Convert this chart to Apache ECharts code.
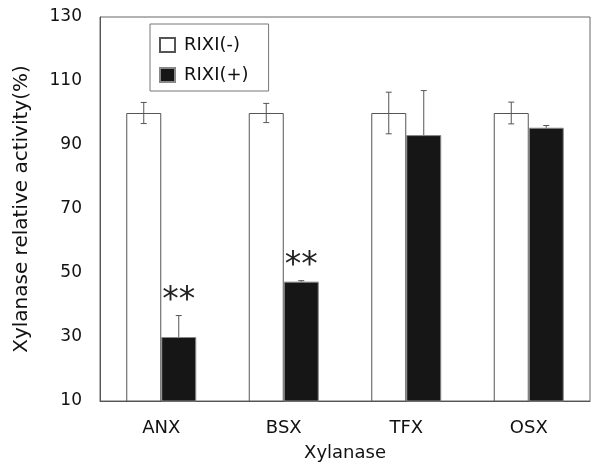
<!DOCTYPE html>
<html>
<head>
<meta charset="utf-8">
<script src="https://cdn.jsdelivr.net/npm/echarts@6/dist/echarts.min.js"></script>
<style>
  html, body { margin: 0; padding: 0; background: #fff; }
  #chart { width: 591px; height: 463px; }
</style>
</head>
<body>
<div id="chart"></div>
<script>
var categories = ['ANX', 'BSX', 'TFX', 'OSX'];
var withoutRixi = [100, 100, 100, 100];
var withoutRixiErr = [3.3, 3.0, 6.5, 3.4];
var withRixi = [30, 47.3, 93.1, 95.4];
var withRixiErr = [6.7, 0.3, 13.9, 0.7];
var significance = ['**', '**', '', ''];
var yTicks = [10, 30, 50, 70, 90, 110, 130];

var font = 'DejaVu Sans, Verdana, sans-serif';
var barW = 35;

// error bars (and asterisks) drawn next to the bars
function errorSeries(name, values, errs, side, downToo, marks) {
    return {
        name: name + ' err',
        type: 'custom',
        silent: true,
        z: 5,
        data: values.map(function (v, i) { return [i, v, errs[i]]; }),
        renderItem: function (params, api) {
            var i = api.value(0);
            var v = api.value(1);
            var e = api.value(2);
            var top = api.coord([i, v + e]);
            var base = api.coord([i, downToo ? v - e : v]);
            var x = top[0] + side * barW / 2;
            var cap = 3;
            var style = { stroke: '#555', lineWidth: 1 };
            var children = [
                { type: 'line', shape: { x1: x, y1: top[1], x2: x, y2: base[1] }, style: style },
                { type: 'line', shape: { x1: x - cap, y1: top[1], x2: x + cap, y2: top[1] }, style: style }
            ];
            if (downToo) {
                children.push({ type: 'line', shape: { x1: x - cap, y1: base[1], x2: x + cap, y2: base[1] }, style: style });
            }
            if (marks && marks[i]) {
                children.push({
                    type: 'text',
                    style: {
                        x: x, y: top[1] + 2, text: marks[i],
                        fill: '#222', font: '33px DejaVu Sans',
                        align: 'center', verticalAlign: 'bottom'
                    }
                });
            }
            return { type: 'group', children: children };
        }
    };
}

var chart = echarts.init(document.getElementById('chart'));
chart.setOption({
    animation: false,
    textStyle: { fontFamily: font },
    grid: {
        left: 100, right: 1, top: 17, bottom: 62,
        outerBoundsMode: 'none',
        containLabel: false,
        show: true, borderColor: '#666', borderWidth: 1
    },
    legend: {
        orient: 'vertical',
        left: 150, top: 24,
        padding: [12, 20, 7, 9],
        itemGap: 12,
        itemWidth: 15, itemHeight: 14,
        borderColor: '#777', borderWidth: 1,
        icon: 'rect',
        data: ['RIXI(-)', 'RIXI(+)'],
        textStyle: { fontSize: 18, color: '#111', fontFamily: font, padding: [0, 0, 0, 4] }
    },
    xAxis: {
        type: 'category',
        data: categories,
        name: 'Xylanase',
        nameLocation: 'middle',
        nameGap: 43,
        nameTextStyle: { fontSize: 18, color: '#111' },
        axisLine: { lineStyle: { color: '#555' } },
        axisTick: { inside: true, length: 6, lineStyle: { color: '#aaa' } },
        axisLabel: { fontSize: 18, color: '#111', margin: 18 }
    },
    yAxis: {
        type: 'value',
        min: 10, max: 130, interval: 10,
        name: 'Xylanase relative activity(%)',
        nameLocation: 'middle',
        nameRotate: 90,
        nameGap: 68,
        nameTextStyle: { fontSize: 20, color: '#111' },
        axisLine: { show: true, lineStyle: { color: '#555' } },
        axisTick: { show: false },
        splitLine: { show: false },
        axisLabel: {
            fontSize: 17, color: '#111', margin: 18,
            formatter: function (v) { return yTicks.indexOf(v) >= 0 ? String(v) : ''; }
        }
    },
    series: [
        {
            name: 'RIXI(-)',
            type: 'bar',
            data: withoutRixi,
            barWidth: barW,
            barGap: '0%',
            itemStyle: { color: '#fff', borderColor: '#555', borderWidth: 1 }
        },
        {
            name: 'RIXI(+)',
            type: 'bar',
            data: withRixi,
            barWidth: barW,
            barGap: '0%',
            itemStyle: { color: '#161616', borderColor: '#888', borderWidth: 1 }
        },
        errorSeries('RIXI(-)', withoutRixi, withoutRixiErr, -1, true, null),
        errorSeries('RIXI(+)', withRixi, withRixiErr, 1, false, significance)
    ]
});
window.addEventListener('resize', function () { chart.resize(); });
</script>
</body>
</html>
